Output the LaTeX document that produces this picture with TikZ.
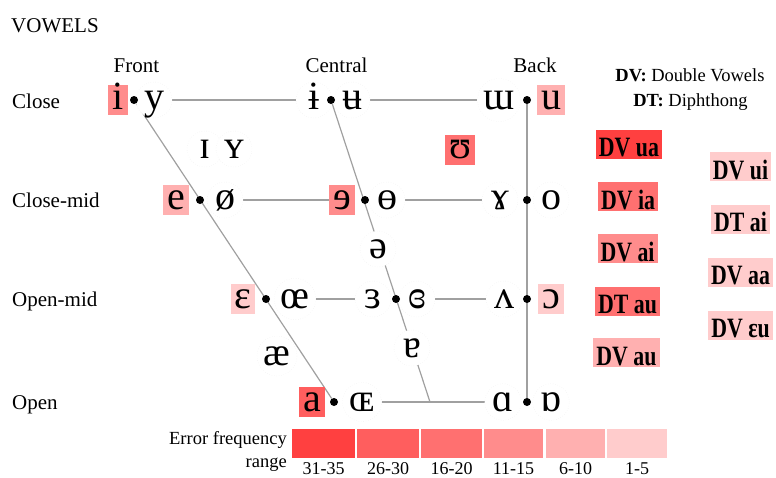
\documentclass[tikz,border=0pt]{standalone}
\usepackage{fontspec}
\usepackage{graphicx}
\setmainfont{Liberation Serif}
\usetikzlibrary{backgrounds}
\definecolor{cA}{HTML}{FF4040}
\definecolor{cB}{HTML}{FF5E5E}
\definecolor{cC}{HTML}{FF7070}
\definecolor{cD}{HTML}{FF8C8C}
\definecolor{cE}{HTML}{FFB0B0}
\definecolor{cF}{HTML}{FFCCCC}
\definecolor{lineg}{HTML}{A0A0A0}
\begin{document}
\begin{tikzpicture}[x=1pt,y=-1pt,
  lab/.style={font=\fontsize{21}{24}\selectfont, inner sep=0pt},
  symtxt/.style={font=\fontsize{40}{44}\selectfont, text height=24pt, text depth=6pt},
  sym/.style={symtxt, circle, inner sep=0pt, minimum size=36pt, fill=white, draw=black!8, dotted},
  hl/.style={symtxt, rectangle, inner xsep=4pt, inner ysep=0pt, fill=#1},
  dot/.style={circle, fill=black, inner sep=0pt, minimum size=8pt},
  conn/.style={draw=lineg, line width=1.2pt},
  dvbox/.style={font=\bfseries\fontsize{28}{30}\selectfont, fill=#1, inner xsep=3pt, inner ysep=0.5pt, text height=26.5pt, text depth=1.5pt},
  cell/.style={fill=#1, draw=none, minimum height=29pt, inner sep=0pt},
  num/.style={font=\fontsize{18}{20}\selectfont, inner sep=0pt, anchor=base},
  leg/.style={font=\fontsize{18.5}{20}\selectfont, inner sep=0pt, anchor=base},
]
\path[use as bounding box] (0,0) rectangle (776,477);

% titles and axis labels
\node[lab, anchor=base west] (vowels) at (11,32) {VOWELS};
\node[lab, anchor=base] (front) at (136.5,72) {Front};
\node[lab, anchor=base] (central) at (336.5,72) {Central};
\node[lab, anchor=base] (back) at (535,72) {Back};
\node[lab, anchor=base west] (close) at (12,108) {Close};
\node[lab, anchor=base west] (closemid) at (12,207.5) {Close-mid};
\node[lab, anchor=base west] (openmid) at (12,306) {Open-mid};
\node[lab, anchor=base west] (open) at (12,409.5) {Open};

% vowel symbols
\node[hl=cD] (i) at (118,100) {i};
\node[sym] (y) at (154,100) {y};
\node[sym] (ibar) at (314,100) {ɨ};
\node[sym] (ubar) at (352,100) {ʉ};
\node[sym] (uu) at (499,100) {ɯ};
\node[hl=cE] (u) at (551,100) {u};
\node[sym] (smI) at (205,149) {ɪ};
\node[sym] (smY) at (234,149) {ʏ};
\node[hl=cC] (upsilon) at (460,149.5) {ʊ};
\node[hl=cE] (e) at (176,200) {e};
\node[sym] (oslash) at (225,200) {ø};
\node[hl=cD] (reve) at (342,200) {ɘ};
\node[sym] (obar) at (387,200) {ɵ};
\node[sym] (gamma) at (500,200) {ɤ};
\node[sym] (o) at (551,200) {o};
\node[sym] (schwa) at (378,249) {ə};
\node[hl=cF] (eps) at (243,299) {ɛ};
\node[sym] (oelig) at (295,299) {œ};
\node[sym] (reveps) at (373,299) {ɜ};
\node[sym] (creveps) at (417,299) {ɞ};
\node[sym] (wedge) at (504,299) {ʌ};
\node[hl=cF] (openo) at (551,299) {ɔ};
\node[sym] (ae) at (277,356) {æ};
\node[sym] (turna) at (412,348) {ɐ};
\node[hl=cB] (a) at (312,402) {a};
\node[sym] (OE) at (362,402) {ɶ};
\node[sym] (alpha) at (503,402) {ɑ};
\node[sym] (talpha) at (551,402) {ɒ};

% dots
\node[dot] (d1) at (134,100) {};
\node[dot] (d2) at (331,100) {};
\node[dot] (d3) at (527,100) {};
\node[dot] (d4) at (200,200) {};
\node[dot] (d5) at (365,200) {};
\node[dot] (d6) at (527,200) {};
\node[dot] (d7) at (266,299) {};
\node[dot] (d8) at (396,299) {};
\node[dot] (d9) at (527,299) {};
\node[dot] (d10) at (334,402) {};
\node[dot] (d11) at (527,402) {};
\coordinate (cb) at (430,402);

\begin{pgfonlayer}{background}
\draw[conn] (y) -- (ibar);
\draw[conn] (ubar) -- (uu);
\draw[conn] (oslash) -- (reve);
\draw[conn] (obar) -- (gamma);
\draw[conn] (oelig) -- (reveps);
\draw[conn] (creveps) -- (wedge);
\draw[conn] (OE) -- (alpha);
\draw[conn] (d1) -- (d10);
\draw[conn] (d2) -- (cb);
\draw[conn] (d3) -- (d11);
\end{pgfonlayer}

% legend of abbreviations
\node[leg] (dvleg) at (690,81) {\textbf{DV:} Double Vowels};
\node[leg] (dtleg) at (690.5,106) {\textbf{DT:} Diphthong};

% double vowel / diphthong boxes
\node[dvbox=cA] (dvua) at (629,144) {\scalebox{0.78}[1]{DV ua}};
\node[dvbox=cC] (dvia) at (628,196.5) {\scalebox{0.78}[1]{DV ia}};
\node[dvbox=cD] (dvai) at (627.5,248.5) {\scalebox{0.78}[1]{DV ai}};
\node[dvbox=cC] (dtau) at (627.5,301) {\scalebox{0.78}[1]{DT au}};
\node[dvbox=cE] (dvau) at (626.5,352.5) {\scalebox{0.78}[1]{DV au}};
\node[dvbox=cF] (dvui) at (740.5,166.5) {\scalebox{0.78}[1]{DV ui}};
\node[dvbox=cF] (dtai) at (740.5,219) {\scalebox{0.78}[1]{DT ai}};
\node[dvbox=cF] (dvaa) at (740.5,272) {\scalebox{0.78}[1]{DV aa}};
\node[dvbox=cF] (dveu) at (740.5,325) {\scalebox{0.78}[1]{DV ɛu}};

% error frequency legend
\node[lab, font=\fontsize{18.5}{20}\selectfont, anchor=base east] (errf) at (287,444) {Error frequency};
\node[lab, font=\fontsize{18.5}{20}\selectfont, anchor=base east] (range) at (287,467) {range};
\node[cell=cA, minimum width=63pt] (c1) at (323.5,443.5) {};
\node[cell=cB, minimum width=62pt] (c2) at (388,443.5) {};
\node[cell=cC, minimum width=61pt] (c3) at (451.5,443.5) {};
\node[cell=cD, minimum width=59pt] (c4) at (513.5,443.5) {};
\node[cell=cE, minimum width=59pt] (c5) at (575.5,443.5) {};
\node[cell=cF, minimum width=60pt] (c6) at (637,443.5) {};
\node[num] (n1) at (323.5,474) {31-35};
\node[num] (n2) at (388,474) {26-30};
\node[num] (n3) at (451.5,474) {16-20};
\node[num] (n4) at (513.5,474) {11-15};
\node[num] (n5) at (575.5,474) {6-10};
\node[num] (n6) at (637,474) {1-5};
\end{tikzpicture}
\end{document}
